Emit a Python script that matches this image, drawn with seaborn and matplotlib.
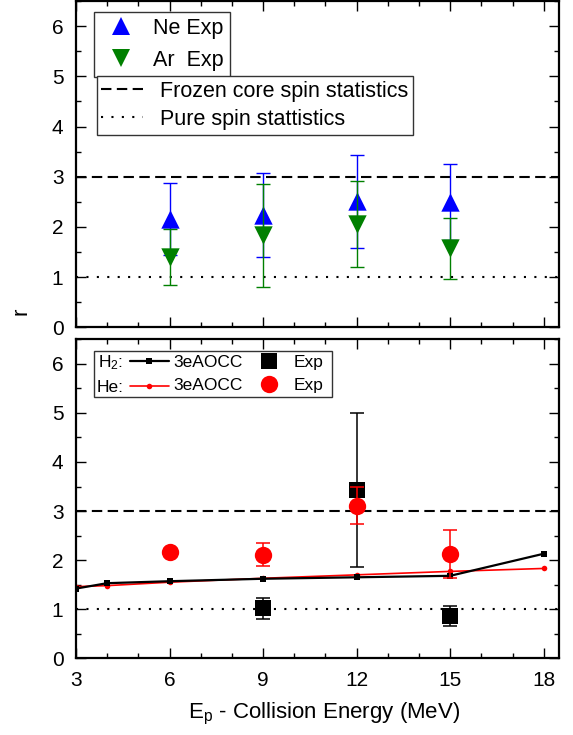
import matplotlib
matplotlib.use("Agg")
import matplotlib.pyplot as plt
import seaborn as sns
from matplotlib.lines import Line2D
from matplotlib.ticker import MultipleLocator

# top panel: heavy targets, experiment only
e_exp = [6, 9, 12, 15]
ne_r = [2.16, 2.24, 2.51, 2.49]
ne_err = [0.72, 0.83, 0.93, 0.76]
ar_r = [1.40, 1.83, 2.06, 1.57]
ar_err = [0.55, 1.03, 0.85, 0.61]

# bottom panel: 3eAOCC theory and experiment for H2 / He
e_theory = [3, 4, 6, 9, 12, 15, 18]
h2_theory = [1.42, 1.53, 1.57, 1.62, 1.65, 1.68, 2.13]
he_theory = [1.46, 1.48, 1.55, 1.63, 1.70, 1.77, 1.83]
e_h2 = [9, 12, 15]
h2_r = [1.02, 3.42, 0.86]
h2_err = [0.21, 1.57, 0.20]
e_he = [6, 9, 12, 15]
he_r = [2.16, 2.11, 3.11, 2.12]
he_err = [0.0, 0.24, 0.38, 0.49]

# reference levels
frozen_core = 3.0
pure_spin = 1.0

x_ticks = [3, 6, 9, 12, 15, 18]
y_ticks = [0, 1, 2, 3, 4, 5, 6]

sns.set_theme(style="ticks", rc={
    "axes.edgecolor": "black", "text.color": "black", "axes.labelcolor": "black",
    "xtick.color": "black", "ytick.color": "black",
})
plt.rcParams["font.family"] = ["Liberation Sans", "DejaVu Sans"]
plt.rcParams["mathtext.default"] = "regular"

DASHED = (0, (5, 2.6))
DOTTED = (0, (1, 4))
FRAME = "#333333"


def style_axes(ax, show_xlabels):
    ax.set_xlim(3, 18.5)
    ax.set_ylim(0, 6.5)
    ax.set_xticks(x_ticks)
    ax.set_yticks(y_ticks)
    ax.xaxis.set_minor_locator(MultipleLocator(1))
    ax.yaxis.set_minor_locator(MultipleLocator(0.5))
    ax.tick_params(which="both", direction="in", top=True, right=True, width=1.0)
    ax.tick_params(which="major", length=7.2, labelsize=15, pad=9)
    ax.tick_params(which="minor", length=3.6)
    ax.tick_params(axis="x", labelbottom=show_xlabels)
    for sp in ax.spines.values():
        sp.set_visible(True)
        sp.set_linewidth(1.6)
    ax.axhline(frozen_core, color="black", lw=1.5, ls=DASHED, zorder=1)
    ax.axhline(pure_spin, color="black", lw=1.5, ls=DOTTED, zorder=1)
    ax.set_xlabel("")
    ax.set_ylabel("")


fig = plt.figure(figsize=(5.73, 7.35), dpi=100)
ax1 = fig.add_axes([0.1326, 0.5547, 0.8435, 0.4439])
ax2 = fig.add_axes([0.1326, 0.1044, 0.8435, 0.4340])

# ---- top panel
ax1.errorbar(e_exp, ne_r, yerr=ne_err, fmt="none", ecolor="blue",
             elinewidth=1.0, capsize=5, capthick=1.0, zorder=2)
sns.scatterplot(x=e_exp, y=ne_r, marker="^", s=175, color="blue",
                linewidth=0, ax=ax1, zorder=3)
ax1.errorbar(e_exp, ar_r, yerr=ar_err, fmt="none", ecolor="green",
             elinewidth=1.0, capsize=5, capthick=1.0, zorder=4)
sns.scatterplot(x=e_exp, y=ar_r, marker="v", s=175, color="green",
                linewidth=0, ax=ax1, zorder=5)
style_axes(ax1, False)

h_ne = Line2D([], [], ls="none", marker="^", ms=13.2, color="blue", mew=0)
h_ar = Line2D([], [], ls="none", marker="v", ms=13.2, color="green", mew=0)
leg1 = ax1.legend([h_ne, h_ar], ["Ne Exp", "Ar  Exp"], loc="upper left",
                  bbox_to_anchor=(0.037, 0.967), borderaxespad=0, fontsize=15.5,
                  fancybox=False, edgecolor=FRAME, framealpha=1, borderpad=0.28,
                  handlelength=2.0, handletextpad=0.47, labelspacing=0.5)
leg1.get_frame().set_linewidth(1.0)
ax1.add_artist(leg1)

h_fc = Line2D([], [], color="black", lw=1.5, ls=DASHED)
h_ps = Line2D([], [], color="black", lw=1.5, ls=DOTTED)
leg2 = ax1.legend([h_fc, h_ps], ["Frozen core spin statistics", "Pure spin stattistics"],
                  loc="upper left", bbox_to_anchor=(0.043, 0.770), borderaxespad=0,
                  fontsize=15.5, fancybox=False, edgecolor=FRAME, framealpha=1,
                  borderpad=0.22, handlelength=1.92, handletextpad=0.8, labelspacing=0.33)
leg2.get_frame().set_linewidth(1.0)

# ---- bottom panel
sns.lineplot(x=e_theory, y=he_theory, color="red", lw=1.2, marker="o",
             markersize=4, markeredgewidth=0, ax=ax2, zorder=2)
sns.lineplot(x=e_theory, y=h2_theory, color="black", lw=1.6, marker="s",
             markersize=4, markeredgewidth=0, ax=ax2, zorder=3)
ax2.errorbar(e_h2, h2_r, yerr=h2_err, fmt="none", ecolor="black",
             elinewidth=1.1, capsize=5, capthick=1.1, zorder=4)
sns.scatterplot(x=e_h2, y=h2_r, marker="s", s=137, color="black",
                linewidth=0, ax=ax2, zorder=5)
ax2.errorbar(e_he, he_r, yerr=he_err, fmt="none", ecolor="red",
             elinewidth=1.1, capsize=5, capthick=1.1, zorder=6)
sns.scatterplot(x=e_he, y=he_r, marker="o", s=156, color="red",
                linewidth=0, ax=ax2, zorder=7)
style_axes(ax2, True)

h_h2_line = Line2D([], [], color="black", lw=1.6, marker="s", ms=4, mew=0)
h_he_line = Line2D([], [], color="red", lw=1.2, marker="o", ms=4, mew=0)
h_h2_exp = Line2D([], [], ls="none", marker="s", ms=11.7, color="black", mew=0)
h_he_exp = Line2D([], [], ls="none", marker="o", ms=12.5, color="red", mew=0)
blank = Line2D([], [], ls="none")
leg3 = ax2.legend([h_h2_line, h_he_line, h_h2_exp, h_he_exp, blank, blank],
                  ["H$_2$:", "He:", "3eAOCC", "3eAOCC", "Exp", "Exp"],
                  ncol=3, markerfirst=False, loc="upper left",
                  bbox_to_anchor=(0.038, 0.963), borderaxespad=0, fontsize=12.5,
                  fancybox=False, edgecolor=FRAME, framealpha=1, borderpad=0.12,
                  handlelength=2.2, handletextpad=0.4, columnspacing=0.3,
                  labelspacing=0.45)
leg3.get_frame().set_linewidth(1.0)
# the "Exp" column has no symbol after it, so drop its handle width
exp_col = leg3.get_children()[0].get_children()[1].get_children()[2]
for item in exp_col.get_children():
    item.get_children()[1].width = 0

ax2.set_xlabel("E$_p$ - Collision Energy (MeV)", fontsize=16)
ax2.xaxis.set_label_coords(0.513, -0.134)
fig.text(21 / 573, 1 - 311 / 735, "r", rotation=90, ha="center", va="center", fontsize=16)

fig.savefig("out.png", dpi=100)
